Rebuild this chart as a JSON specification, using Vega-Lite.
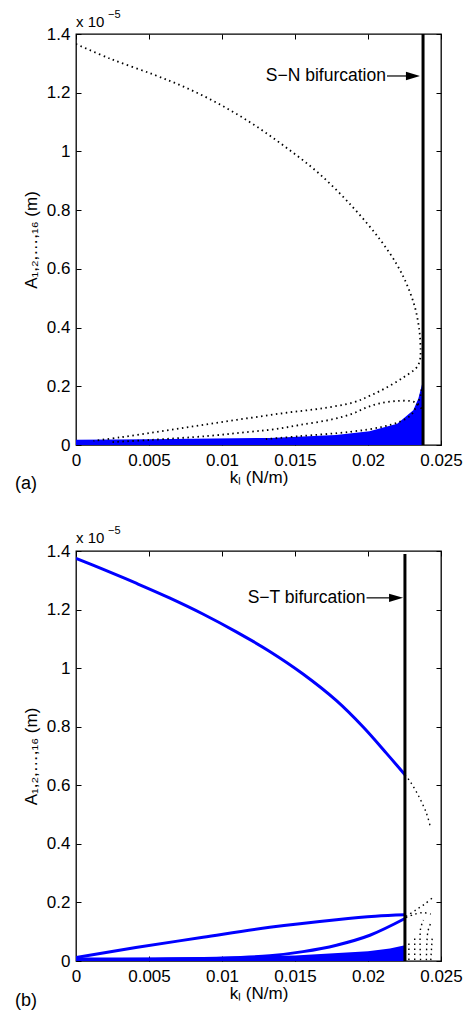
{
  "$schema": "https://vega.github.io/schema/vega-lite/v6.json",
  "padding": {"left": 14, "top": 8, "right": 6, "bottom": 4},
  "spacing": 30,
  "config": {
    "font": "Liberation Sans",
    "view": {"stroke": "black", "strokeWidth": 1.3},
    "axis": {"labelFont": "Liberation Sans", "labelFontSize": 17, "labelColor": "black", "labelFlush": false, "titleFont": "Liberation Sans", "titleFontSize": 17, "titleFontWeight": "normal", "titleColor": "black", "tickColor": "black", "tickWidth": 1, "grid": false, "domain": false}
  },
  "datasets": {
    "curves": [
      {"p":"a","s":"d1","t":"dot","k":0,"A":1.366},{"p":"a","s":"d1","t":"dot","k":0.00233,"A":1.316},{"p":"a","s":"d1","t":"dot","k":0.0053,"A":1.262},{"p":"a","s":"d1","t":"dot","k":0.00758,"A":1.216},{"p":"a","s":"d1","t":"dot","k":0.00986,"A":1.16},{"p":"a","s":"d1","t":"dot","k":0.01215,"A":1.092},{"p":"a","s":"d1","t":"dot","k":0.01443,"A":1.012},{"p":"a","s":"d1","t":"dot","k":0.01671,"A":0.922},{"p":"a","s":"d1","t":"dot","k":0.019,"A":0.808},{"p":"a","s":"d1","t":"dot","k":0.02082,"A":0.7},{"p":"a","s":"d1","t":"dot","k":0.02196,"A":0.616},{"p":"a","s":"d1","t":"dot","k":0.02265,"A":0.548},{"p":"a","s":"d1","t":"dot","k":0.02322,"A":0.468},{"p":"a","s":"d1","t":"dot","k":0.02352,"A":0.389},{"p":"a","s":"d1","t":"dot","k":0.0236,"A":0.321},{"p":"a","s":"d1","t":"dot","k":0.02356,"A":0.29},{"p":"a","s":"d1","t":"dot","k":0.02333,"A":0.264},{"p":"a","s":"d1","t":"dot","k":0.02242,"A":0.23},{"p":"a","s":"d1","t":"dot","k":0.02128,"A":0.196},{"p":"a","s":"d1","t":"dot","k":0.02014,"A":0.168},{"p":"a","s":"d1","t":"dot","k":0.019,"A":0.145},{"p":"a","s":"d1","t":"dot","k":0.01671,"A":0.124},{"p":"a","s":"d1","t":"dot","k":0.01443,"A":0.11},{"p":"a","s":"d1","t":"dot","k":0.01215,"A":0.094},{"p":"a","s":"d1","t":"dot","k":0.00986,"A":0.077},{"p":"a","s":"d1","t":"dot","k":0.00758,"A":0.06},{"p":"a","s":"d1","t":"dot","k":0.0053,"A":0.043},{"p":"a","s":"d1","t":"dot","k":0.003,"A":0.026},{"p":"a","s":"d1","t":"dot","k":0.0012,"A":0.014},
      {"p":"a","s":"d2","t":"dot","k":0.0025,"A":0.01},{"p":"a","s":"d2","t":"dot","k":0.005,"A":0.017},{"p":"a","s":"d2","t":"dot","k":0.0091,"A":0.031},{"p":"a","s":"d2","t":"dot","k":0.0119,"A":0.045},{"p":"a","s":"d2","t":"dot","k":0.0135,"A":0.053},{"p":"a","s":"d2","t":"dot","k":0.0153,"A":0.068},{"p":"a","s":"d2","t":"dot","k":0.0176,"A":0.088},{"p":"a","s":"d2","t":"dot","k":0.019,"A":0.108},{"p":"a","s":"d2","t":"dot","k":0.0199,"A":0.128},{"p":"a","s":"d2","t":"dot","k":0.0208,"A":0.142},{"p":"a","s":"d2","t":"dot","k":0.022,"A":0.15},{"p":"a","s":"d2","t":"dot","k":0.0231,"A":0.148},{"p":"a","s":"d2","t":"dot","k":0.0235,"A":0.136},{"p":"a","s":"d2","t":"dot","k":0.0237,"A":0.12},
      {"p":"a","s":"d3","t":"dot","k":0.013,"A":0.02},{"p":"a","s":"d3","t":"dot","k":0.0153,"A":0.03},{"p":"a","s":"d3","t":"dot","k":0.0188,"A":0.045},{"p":"a","s":"d3","t":"dot","k":0.021,"A":0.062},{"p":"a","s":"d3","t":"dot","k":0.0222,"A":0.08},{"p":"a","s":"d3","t":"dot","k":0.0229,"A":0.1},{"p":"a","s":"d3","t":"dot","k":0.0233,"A":0.13},{"p":"a","s":"d3","t":"dot","k":0.0236,"A":0.17},{"p":"a","s":"d3","t":"dot","k":0.0237,"A":0.2},
      {"p":"a","s":"band","t":"band","k":0,"A":0.018},{"p":"a","s":"band","t":"band","k":0.005,"A":0.02},{"p":"a","s":"band","t":"band","k":0.0133,"A":0.024},{"p":"a","s":"band","t":"band","k":0.0178,"A":0.034},{"p":"a","s":"band","t":"band","k":0.0201,"A":0.047},{"p":"a","s":"band","t":"band","k":0.022,"A":0.072},{"p":"a","s":"band","t":"band","k":0.0231,"A":0.118},{"p":"a","s":"band","t":"band","k":0.02345,"A":0.158},{"p":"a","s":"band","t":"band","k":0.0237,"A":0.207},
      {"p":"b","s":"bm","t":"blue","k":0,"A":1.375},{"p":"b","s":"bm","t":"blue","k":0.00183,"A":1.338},{"p":"b","s":"bm","t":"blue","k":0.00412,"A":1.29},{"p":"b","s":"bm","t":"blue","k":0.0064,"A":1.24},{"p":"b","s":"bm","t":"blue","k":0.00869,"A":1.185},{"p":"b","s":"bm","t":"blue","k":0.01098,"A":1.124},{"p":"b","s":"bm","t":"blue","k":0.01327,"A":1.057},{"p":"b","s":"bm","t":"blue","k":0.01555,"A":0.98},{"p":"b","s":"bm","t":"blue","k":0.01784,"A":0.889},{"p":"b","s":"bm","t":"blue","k":0.01967,"A":0.799},{"p":"b","s":"bm","t":"blue","k":0.02127,"A":0.709},{"p":"b","s":"bm","t":"blue","k":0.02253,"A":0.636},
      {"p":"b","s":"bmd","t":"dot","k":0.02253,"A":0.636},{"p":"b","s":"bmd","t":"dot","k":0.0229,"A":0.612},{"p":"b","s":"bmd","t":"dot","k":0.0235,"A":0.56},{"p":"b","s":"bmd","t":"dot","k":0.024,"A":0.505},{"p":"b","s":"bmd","t":"dot","k":0.02425,"A":0.462},
      {"p":"b","s":"bu","t":"blue","k":0,"A":0.012},{"p":"b","s":"bu","t":"blue","k":0.0041,"A":0.046},{"p":"b","s":"bu","t":"blue","k":0.0087,"A":0.081},{"p":"b","s":"bu","t":"blue","k":0.01327,"A":0.115},{"p":"b","s":"bu","t":"blue","k":0.01784,"A":0.141},{"p":"b","s":"bu","t":"blue","k":0.0205,"A":0.153},{"p":"b","s":"bu","t":"blue","k":0.02253,"A":0.158},
      {"p":"b","s":"bs","t":"blue","k":0,"A":0.005},{"p":"b","s":"bs","t":"blue","k":0.005,"A":0.006},{"p":"b","s":"bs","t":"blue","k":0.01,"A":0.01},{"p":"b","s":"bs","t":"blue","k":0.01327,"A":0.018},{"p":"b","s":"bs","t":"blue","k":0.01555,"A":0.032},{"p":"b","s":"bs","t":"blue","k":0.01784,"A":0.054},{"p":"b","s":"bs","t":"blue","k":0.02013,"A":0.088},{"p":"b","s":"bs","t":"blue","k":0.02253,"A":0.145},
      {"p":"b","s":"band","t":"band","k":0,"A":0.012},{"p":"b","s":"band","t":"band","k":0.005,"A":0.012},{"p":"b","s":"band","t":"band","k":0.01,"A":0.014},{"p":"b","s":"band","t":"band","k":0.015,"A":0.019},{"p":"b","s":"band","t":"band","k":0.02,"A":0.033},{"p":"b","s":"band","t":"band","k":0.0215,"A":0.043},{"p":"b","s":"band","t":"band","k":0.02253,"A":0.054},
      {"p":"b","s":"bd1","t":"dot","k":0.0226,"A":0.152},{"p":"b","s":"bd1","t":"dot","k":0.0233,"A":0.175},{"p":"b","s":"bd1","t":"dot","k":0.0239,"A":0.195},{"p":"b","s":"bd1","t":"dot","k":0.0244,"A":0.215},
      {"p":"b","s":"bd2","t":"dot","k":0.0226,"A":0.148},{"p":"b","s":"bd2","t":"dot","k":0.0232,"A":0.16},{"p":"b","s":"bd2","t":"dot","k":0.0238,"A":0.165},{"p":"b","s":"bd2","t":"dot","k":0.0243,"A":0.16},
      {"p":"b","s":"bd3","t":"dot","k":0.0228,"A":0.003},{"p":"b","s":"bd3","t":"dot","k":0.0228,"A":0.06},
      {"p":"b","s":"bd4","t":"dot","k":0.0232,"A":0.003},{"p":"b","s":"bd4","t":"dot","k":0.0232,"A":0.085},
      {"p":"b","s":"bd5","t":"dot","k":0.0236,"A":0.003},{"p":"b","s":"bd5","t":"dot","k":0.0236,"A":0.11},{"p":"b","s":"bd5","t":"dot","k":0.0238,"A":0.14},
      {"p":"b","s":"bd6","t":"dot","k":0.024,"A":0.003},{"p":"b","s":"bd6","t":"dot","k":0.0241,"A":0.1},{"p":"b","s":"bd6","t":"dot","k":0.0243,"A":0.13},
      {"p":"b","s":"bd7","t":"dot","k":0.0243,"A":0.003},{"p":"b","s":"bd7","t":"dot","k":0.0244,"A":0.08}
    ],
    "bif": [
      {"p":"a","k":0.02377,"y0":0,"y1":1.4},
      {"p":"b","k":0.02253,"y0":0,"y1":1.39}
    ],
    "arrows": [
      {"p":"a","k1":0.0213,"k2":0.02308,"A":1.257,"label":"S−N bifurcation"},
      {"p":"b","k1":0.0199,"k2":0.02192,"A":1.24,"label":"S−T bifurcation"}
    ],
    "notes": [
      {"p":"a","k":0,"top":1.4,"bottom":0,"mult":"x 10","exp":"−5","tag":"(a)"},
      {"p":"b","k":0,"top":1.4,"bottom":0,"mult":"x 10","exp":"−5","tag":"(b)"}
    ]
  },
  "vconcat": [
    {
      "width": 365, "height": 411,
      "resolve": {"axis": {"x": "independent", "y": "independent"}},
      "layer": [
        {
          "data": {"name": "curves"},
          "transform": [{"filter": "datum.p == 'a' && datum.t == 'band'"}],
          "mark": {"type": "area", "color": "#0000ff", "orient": "vertical", "clip": true},
          "encoding": {
            "x": {"field": "k", "type": "quantitative", "scale": {"domain": [0, 0.025], "nice": false, "zero": false}, "axis": {"orient": "bottom", "values": [0, 0.005, 0.01, 0.015, 0.02, 0.025], "format": "~g", "title": "kₗ (N/m)", "tickSize": -5, "labelPadding": 12, "titlePadding": 1}},
            "y": {"field": "A", "type": "quantitative", "scale": {"domain": [0, 1.4], "nice": false}, "axis": {"orient": "left", "values": [0, 0.2, 0.4, 0.6, 0.8, 1, 1.2, 1.4], "format": "~g", "title": "A₁,₂,…,₁₆ (m)", "tickSize": -5, "labelPadding": 11, "titlePadding": 6}},
            "order": {"value": null}
          }
        },
        {
          "data": {"name": "curves"},
          "transform": [{"filter": "datum.p == 'a' && datum.t == 'dot'"}],
          "mark": {"type": "line", "color": "black", "strokeWidth": 1.8, "strokeDash": [1.5, 3.5], "interpolate": "catmull-rom", "clip": true},
          "encoding": {
            "x": {"field": "k", "type": "quantitative", "axis": null},
            "y": {"field": "A", "type": "quantitative", "axis": null},
            "detail": {"field": "s"},
            "order": {"value": null}
          }
        },
        {
          "data": {"name": "bif"},
          "transform": [{"filter": "datum.p == 'a'"}],
          "mark": {"type": "rule", "color": "black", "strokeWidth": 3},
          "encoding": {
            "x": {"field": "k", "type": "quantitative", "axis": {"orient": "top", "values": [0, 0.005, 0.01, 0.015, 0.02, 0.025], "labels": false, "title": null, "tickSize": -5}},
            "y": {"field": "y0", "type": "quantitative", "axis": {"orient": "right", "values": [0, 0.2, 0.4, 0.6, 0.8, 1, 1.2, 1.4], "labels": false, "title": null, "tickSize": -5}},
            "y2": {"field": "y1"}
          }
        },
        {
          "data": {"name": "arrows"},
          "transform": [{"filter": "datum.p == 'a'"}],
          "mark": {"type": "rule", "color": "black", "strokeWidth": 1.2},
          "encoding": {
            "x": {"field": "k1", "type": "quantitative", "axis": null},
            "x2": {"field": "k2"},
            "y": {"field": "A", "type": "quantitative", "axis": null}
          }
        },
        {
          "data": {"name": "arrows"},
          "transform": [{"filter": "datum.p == 'a'"}],
          "mark": {"type": "point", "shape": "M1,0L-1,-0.6L-1,0.6Z", "size": 196, "filled": true, "color": "black", "opacity": 1},
          "encoding": {
            "x": {"field": "k2", "type": "quantitative", "axis": null},
            "y": {"field": "A", "type": "quantitative", "axis": null}
          }
        },
        {
          "data": {"name": "arrows"},
          "transform": [{"filter": "datum.p == 'a'"}],
          "mark": {"type": "text", "align": "right", "baseline": "middle", "fontSize": 17.5, "color": "black", "dx": -1},
          "encoding": {
            "x": {"field": "k1", "type": "quantitative", "axis": null},
            "y": {"field": "A", "type": "quantitative", "axis": null},
            "text": {"field": "label"}
          }
        },
        {
          "data": {"name": "notes"},
          "transform": [{"filter": "datum.p == 'a'"}],
          "mark": {"type": "text", "align": "left", "baseline": "alphabetic", "fontSize": 15, "color": "black", "dy": -7},
          "encoding": {
            "x": {"field": "k", "type": "quantitative", "axis": null},
            "y": {"field": "top", "type": "quantitative", "axis": null},
            "text": {"field": "mult"}
          }
        },
        {
          "data": {"name": "notes"},
          "transform": [{"filter": "datum.p == 'a'"}],
          "mark": {"type": "text", "align": "left", "baseline": "alphabetic", "fontSize": 11, "color": "black", "dx": 32, "dy": -16},
          "encoding": {
            "x": {"field": "k", "type": "quantitative", "axis": null},
            "y": {"field": "top", "type": "quantitative", "axis": null},
            "text": {"field": "exp"}
          }
        },
        {
          "data": {"name": "notes"},
          "transform": [{"filter": "datum.p == 'a'"}],
          "mark": {"type": "text", "align": "left", "baseline": "middle", "fontSize": 18, "color": "black", "dx": -61, "dy": 39},
          "encoding": {
            "x": {"field": "k", "type": "quantitative", "axis": null},
            "y": {"field": "bottom", "type": "quantitative", "axis": null},
            "text": {"field": "tag"}
          }
        }
      ]
    },
    {
      "width": 365, "height": 410,
      "resolve": {"axis": {"x": "independent", "y": "independent"}},
      "layer": [
        {
          "data": {"name": "curves"},
          "transform": [{"filter": "datum.p == 'b' && datum.t == 'band'"}],
          "mark": {"type": "area", "color": "#0000ff", "orient": "vertical", "clip": true},
          "encoding": {
            "x": {"field": "k", "type": "quantitative", "scale": {"domain": [0, 0.025], "nice": false, "zero": false}, "axis": {"orient": "bottom", "values": [0, 0.005, 0.01, 0.015, 0.02, 0.025], "format": "~g", "title": "kₗ (N/m)", "tickSize": -5, "labelPadding": 12, "titlePadding": 1}},
            "y": {"field": "A", "type": "quantitative", "scale": {"domain": [0, 1.4], "nice": false}, "axis": {"orient": "left", "values": [0, 0.2, 0.4, 0.6, 0.8, 1, 1.2, 1.4], "format": "~g", "title": "A₁,₂,…,₁₆ (m)", "tickSize": -5, "labelPadding": 11, "titlePadding": 6}},
            "order": {"value": null}
          }
        },
        {
          "data": {"name": "curves"},
          "transform": [{"filter": "datum.p == 'b' && datum.t == 'blue'"}],
          "mark": {"type": "line", "color": "#0000ff", "strokeWidth": 3, "interpolate": "catmull-rom", "clip": true},
          "encoding": {
            "x": {"field": "k", "type": "quantitative", "axis": null},
            "y": {"field": "A", "type": "quantitative", "axis": null},
            "detail": {"field": "s"},
            "order": {"value": null}
          }
        },
        {
          "data": {"name": "curves"},
          "transform": [{"filter": "datum.p == 'b' && datum.t == 'dot'"}],
          "mark": {"type": "line", "color": "black", "strokeWidth": 1.4, "strokeDash": [1.5, 3.5], "interpolate": "catmull-rom", "clip": true},
          "encoding": {
            "x": {"field": "k", "type": "quantitative", "axis": null},
            "y": {"field": "A", "type": "quantitative", "axis": null},
            "detail": {"field": "s"},
            "order": {"value": null}
          }
        },
        {
          "data": {"name": "bif"},
          "transform": [{"filter": "datum.p == 'b'"}],
          "mark": {"type": "rule", "color": "black", "strokeWidth": 3},
          "encoding": {
            "x": {"field": "k", "type": "quantitative", "axis": {"orient": "top", "values": [0, 0.005, 0.01, 0.015, 0.02, 0.025], "labels": false, "title": null, "tickSize": -5}},
            "y": {"field": "y0", "type": "quantitative", "axis": {"orient": "right", "values": [0, 0.2, 0.4, 0.6, 0.8, 1, 1.2, 1.4], "labels": false, "title": null, "tickSize": -5}},
            "y2": {"field": "y1"}
          }
        },
        {
          "data": {"name": "arrows"},
          "transform": [{"filter": "datum.p == 'b'"}],
          "mark": {"type": "rule", "color": "black", "strokeWidth": 1.2},
          "encoding": {
            "x": {"field": "k1", "type": "quantitative", "axis": null},
            "x2": {"field": "k2"},
            "y": {"field": "A", "type": "quantitative", "axis": null}
          }
        },
        {
          "data": {"name": "arrows"},
          "transform": [{"filter": "datum.p == 'b'"}],
          "mark": {"type": "point", "shape": "M1,0L-1,-0.6L-1,0.6Z", "size": 196, "filled": true, "color": "black", "opacity": 1},
          "encoding": {
            "x": {"field": "k2", "type": "quantitative", "axis": null},
            "y": {"field": "A", "type": "quantitative", "axis": null}
          }
        },
        {
          "data": {"name": "arrows"},
          "transform": [{"filter": "datum.p == 'b'"}],
          "mark": {"type": "text", "align": "right", "baseline": "middle", "fontSize": 17.5, "color": "black", "dx": -1},
          "encoding": {
            "x": {"field": "k1", "type": "quantitative", "axis": null},
            "y": {"field": "A", "type": "quantitative", "axis": null},
            "text": {"field": "label"}
          }
        },
        {
          "data": {"name": "notes"},
          "transform": [{"filter": "datum.p == 'b'"}],
          "mark": {"type": "text", "align": "left", "baseline": "alphabetic", "fontSize": 15, "color": "black", "dy": -8},
          "encoding": {
            "x": {"field": "k", "type": "quantitative", "axis": null},
            "y": {"field": "top", "type": "quantitative", "axis": null},
            "text": {"field": "mult"}
          }
        },
        {
          "data": {"name": "notes"},
          "transform": [{"filter": "datum.p == 'b'"}],
          "mark": {"type": "text", "align": "left", "baseline": "alphabetic", "fontSize": 11, "color": "black", "dx": 32, "dy": -17},
          "encoding": {
            "x": {"field": "k", "type": "quantitative", "axis": null},
            "y": {"field": "top", "type": "quantitative", "axis": null},
            "text": {"field": "exp"}
          }
        },
        {
          "data": {"name": "notes"},
          "transform": [{"filter": "datum.p == 'b'"}],
          "mark": {"type": "text", "align": "left", "baseline": "middle", "fontSize": 18, "color": "black", "dx": -61, "dy": 40},
          "encoding": {
            "x": {"field": "k", "type": "quantitative", "axis": null},
            "y": {"field": "bottom", "type": "quantitative", "axis": null},
            "text": {"field": "tag"}
          }
        }
      ]
    }
  ]
}
